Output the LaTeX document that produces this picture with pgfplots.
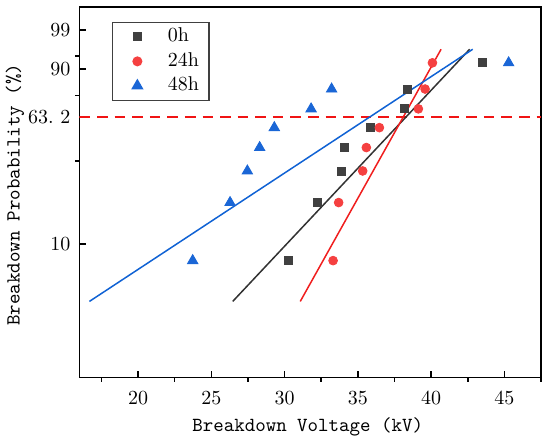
\documentclass[border=0pt]{standalone}
\usepackage{fontspec}
\usepackage{pgfplots}
\pgfplotsset{compat=1.18}
\definecolor{cgray}{RGB}{64,64,64}
\definecolor{cgrayl}{RGB}{50,50,50}
\definecolor{cred}{RGB}{245,64,64}
\definecolor{credl}{RGB}{240,30,30}
\definecolor{cblue}{RGB}{26,102,214}
\definecolor{cbluel}{RGB}{16,98,212}
\definecolor{cdash}{RGB}{240,20,20}
\begin{document}
\begin{tikzpicture}
\begin{axis}[
  scale only axis, width=231pt, height=185.35pt,
  xmin=16, xmax=47.5, ymin=-4.6002, ymax=1.9326,
  axis line style={line width=0.8pt},
  xtick={20,25,30,35,40,45},
  minor xtick={17.5,22.5,27.5,32.5,37.5,42.5,47.5},
  ytick={-2.2504,-0.000328,0.8340,1.5272},
  yticklabels={10,{63.\ 2},90,99},
  minor ytick={-0.78589,0.37324,1.0648},
  xtick pos=bottom, ytick pos=left,
  tick align=inside, major tick length=3.35pt, minor tick length=-2.25pt,
  tick style={black, line width=0.8pt},
  xticklabel style={yshift=-3.6pt, font=\fontsize{10}{12}\selectfont},
  yticklabel style={xshift=-1pt, font=\fontsize{10}{12}\selectfont},
  xlabel={Breakdown Voltage (kV)},
  ylabel={Breakdown Probability (\%)},
  xlabel style={at={(axis description cs:0.4946,-0.133)}, anchor=center, font=\ttfamily\fontsize{10}{12}\selectfont},
  ylabel style={at={(axis description cs:-0.1396,0.493)}, anchor=center, font=\ttfamily\fontsize{10}{12}\selectfont},
  legend style={at={(0.071,0.960)}, anchor=north west, draw=black!75, line width=0.6pt,
    font=\fontsize{10}{12}\selectfont, row sep=1.25pt, inner xsep=4pt, inner ysep=1.75pt,
    nodes={inner sep=1pt, text height=7pt, text depth=2pt}},
  legend cell align=left,
  legend image code/.code={\path (0pt,-3pt) (22pt,3pt); \draw[#1] plot coordinates {(8pt,0pt)};},
]
\addplot[cdash, line width=1pt, dash pattern=on 5.3pt off 3.5pt, forget plot] coordinates {(16,0) (47.5,0)};
\addplot[cgrayl, line width=0.75pt, forget plot] coordinates {(26.46,-3.261) (42.63,1.187)};
\addplot[credl, line width=0.75pt, forget plot] coordinates {(31.07,-3.261) (40.68,1.187)};
\addplot[cbluel, line width=0.75pt, forget plot] coordinates {(16.68,-3.261) (42.84,1.187)};
\addplot[only marks, mark=square*, mark size=2pt, color=cgray] coordinates {
(30.28,-2.5411) (32.22,-1.5170) (33.88,-0.95975) (34.10,-0.54690)
(35.85,-0.19558) (38.20,0.13552) (38.40,0.48530) (43.52,0.94788)};
\addlegendentry{0h}
\addplot[only marks, mark=*, mark size=2.2pt, color=cred] coordinates {
(33.31,-2.5411) (33.69,-1.5170) (35.33,-0.95975) (35.58,-0.54690)
(36.47,-0.19558) (39.13,0.13552) (39.59,0.48530) (40.09,0.94788)};
\addlegendentry{24h}
\addplot[only marks, mark=triangle*, mark size=3pt, color=cblue] coordinates {
(23.73,-2.5411) (26.28,-1.5170) (27.46,-0.95975) (28.30,-0.54690)
(29.30,-0.19558) (31.81,0.13552) (33.21,0.48530) (45.29,0.94788)};
\addlegendentry{48h}
\end{axis}
\pgfresetboundingbox
\path (current axis.south west) +(-39.75pt,-32.65pt) (current axis.north east) +(4.5pt,3.5pt);
\end{tikzpicture}
\end{document}
